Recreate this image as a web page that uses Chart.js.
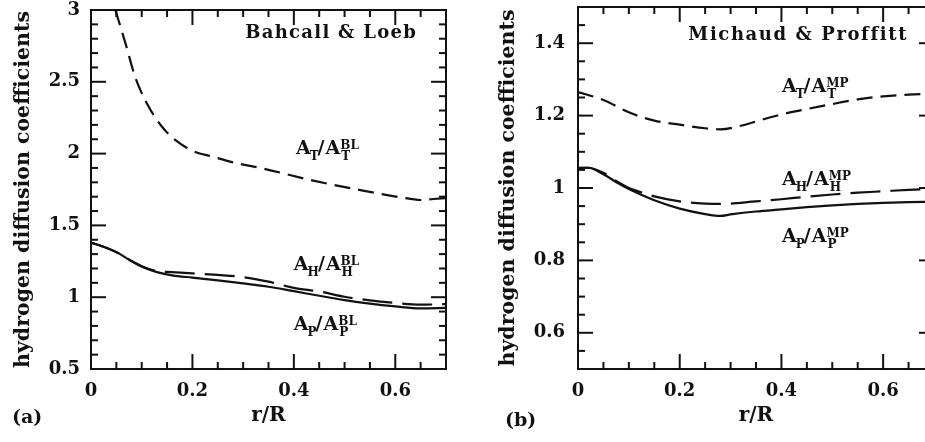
<!DOCTYPE html>
<html><head><meta charset="utf-8">
<script src="https://cdn.jsdelivr.net/npm/chart.js@4/dist/chart.umd.min.js"></script>
<style>
html,body{margin:0;padding:0;background:#fff;overflow:hidden;width:925px;height:442px;}
#wrap{position:relative;width:925px;height:442px;overflow:hidden;background:#fff;}
#ca{position:absolute;left:0;top:0;}
#cb{position:absolute;left:460px;top:0;}
</style></head>
<body><div id="wrap"><canvas id="ca" width="460" height="442"></canvas><canvas id="cb" width="480" height="442"></canvas></div>
<script>
// ---------- tick labels ----------
const xTicksA = [0, 0.2, 0.4, 0.6];
const yTicksA = [0.5, 1, 1.5, 2, 2.5, 3];
const xTicksB = [0, 0.2, 0.4, 0.6];
const yTicksB = [0.6, 0.8, 1, 1.2, 1.4];

// ---------- panel (a): Bahcall & Loeb ----------
const rA_T = [0.048, 0.068, 0.087, 0.11, 0.14, 0.166, 0.2, 0.24, 0.285, 0.337, 0.433, 0.531, 0.61, 0.65, 0.675, 0.7];
const ratioA_T = [3.0, 2.768, 2.535, 2.35, 2.187, 2.095, 2.02, 1.978, 1.935, 1.898, 1.816, 1.746, 1.696, 1.677, 1.684, 1.69];
const rA_HP = [0, 0.03, 0.055, 0.08, 0.105, 0.13, 0.16, 0.2, 0.25, 0.3, 0.35, 0.4, 0.45, 0.5, 0.55, 0.6, 0.65, 0.7];
const ratioA_H = [1.38, 1.345, 1.305, 1.252, 1.208, 1.182, 1.175, 1.166, 1.155, 1.14, 1.108, 1.065, 1.04, 1.003, 0.978, 0.96, 0.948, 0.952];
const ratioA_P = [1.38, 1.345, 1.305, 1.25, 1.205, 1.175, 1.152, 1.136, 1.117, 1.096, 1.073, 1.042, 1.01, 0.98, 0.955, 0.936, 0.922, 0.925];

// ---------- panel (b): Michaud & Proffitt ----------
const rB_T = [0, 0.05, 0.1, 0.15, 0.2, 0.25, 0.28, 0.32, 0.36, 0.4, 0.45, 0.5, 0.55, 0.6, 0.65, 0.7];
const ratioB_T = [1.265, 1.243, 1.209, 1.186, 1.175, 1.165, 1.162, 1.172, 1.188, 1.203, 1.218, 1.232, 1.245, 1.253, 1.258, 1.26];
const rB_H = [0, 0.02, 0.05, 0.08, 0.1, 0.12, 0.15, 0.2, 0.25, 0.28, 0.35, 0.4, 0.45, 0.5, 0.55, 0.6, 0.65, 0.7];
const ratioB_H = [1.055, 1.056, 1.042, 1.015, 1.0, 0.99, 0.977, 0.963, 0.957, 0.956, 0.963, 0.969, 0.976, 0.982, 0.987, 0.991, 0.995, 0.998];
const rB_P = [0, 0.02, 0.05, 0.08, 0.1, 0.12, 0.15, 0.2, 0.25, 0.28, 0.3, 0.35, 0.4, 0.45, 0.5, 0.55, 0.6, 0.65, 0.7];
const ratioB_P = [1.055, 1.056, 1.038, 1.012, 0.997, 0.984, 0.966, 0.943, 0.928, 0.923, 0.927, 0.935, 0.941, 0.947, 0.952, 0.956, 0.959, 0.961, 0.962];

const INK = '#111';
const SERIF = '"DejaVu Serif", serif';

function pts(xs, ys){ return xs.map((x,i)=>({x:x, y:ys[i]})); }
function curve(xs, ys, dash){
  return {data: pts(xs, ys), showLine:true, borderColor:INK, borderWidth:2.2, borderDash:dash,
          pointRadius:0, cubicInterpolationMode:'monotone', fill:false, clip:0};
}

const frameTicks = {
  id:'frameTicks',
  afterDatasetsDraw(chart, args, o){
    const {ctx, chartArea:{left,right,top,bottom}, scales:{x,y}} = chart;
    ctx.save();
    ctx.strokeStyle = INK; ctx.lineWidth = 2; ctx.lineCap='butt';
    ctx.strokeRect(left, top, right-left, bottom-top);
    const seg=(a,b,c,d)=>{ctx.beginPath();ctx.moveTo(a,b);ctx.lineTo(c,d);ctx.stroke();};
    const isMaj=(v,s)=>Math.abs(v/s-Math.round(v/s))<1e-6;
    for(let i=1;;i++){
      const v = x.min + i*o.xMinor; if(v >= x.max-1e-9) break;
      const L = isMaj(v,o.xMajor)?15:7, p=x.getPixelForValue(v);
      seg(p,bottom,p,bottom-L); seg(p,top,p,top+L);
    }
    for(let i=1;;i++){
      const v = y.min + i*o.yMinor; if(v >= y.max-1e-9) break;
      const L = isMaj(v,o.yMajor)?15:7, p=y.getPixelForValue(v);
      seg(left,p,left+L,p); seg(right,p,right-L,p);
    }
    ctx.restore();
  }
};

function ratioLabel(ctx, px, py, sub, sup){
  const big='bold 19px '+SERIF, small='bold 12px '+SERIF;
  ctx.textBaseline='alphabetic'; ctx.textAlign='left'; ctx.fillStyle=INK;
  let cx=px;
  ctx.font=big; ctx.fillText('A',cx,py); cx+=ctx.measureText('A').width-1;
  ctx.font=small; ctx.fillText(sub,cx,py+6); cx+=ctx.measureText(sub).width-1;
  ctx.font=big; ctx.fillText('/',cx,py); cx+=ctx.measureText('/').width+1;
  ctx.fillText('A',cx,py); cx+=ctx.measureText('A').width;
  ctx.font=small; ctx.fillText(sup,cx,py-5); ctx.fillText(sub,cx+1,py+6);
}

const notes = {
  id:'notes',
  afterDraw(chart, args, o){
    const {ctx, scales:{x,y}} = chart;
    ctx.save();
    ctx.fillStyle=INK;
    ctx.font='bold 18px '+SERIF; ctx.textAlign='left'; ctx.textBaseline='alphabetic';
    ctx.letterSpacing = o.titleSpacing;
    ctx.fillText(o.title, x.getPixelForValue(o.titleAt[0]), y.getPixelForValue(o.titleAt[1]));
    ctx.letterSpacing = '0px';
    o.labels.forEach(l=>ratioLabel(ctx, x.getPixelForValue(l.at[0]), y.getPixelForValue(l.at[1]), l.sub, l.sup));
    ctx.font='bold 19px '+SERIF; ctx.textBaseline='middle';
    ctx.fillText(o.panel, o.panelPos[0], o.panelPos[1]);
    ctx.restore();
  }
};

function makeChart(id, sets, xTicks, yTicks, ymin, ymax, yW, pad, yTitlePad, yTickPad, fo, no){
  return new Chart(document.getElementById(id), {
    type:'scatter',
    data:{datasets:sets},
    options:{
      responsive:false, animation:false, devicePixelRatio:1,
      layout:{padding:pad},
      plugins:{legend:{display:false}, tooltip:{enabled:false}, frameTicks:fo, notes:no},
      scales:{
        x:{type:'linear', min:0, max:0.7,
           grid:{display:false, drawTicks:false}, border:{display:false},
           afterBuildTicks:s=>{s.ticks = xTicks.map(v=>({value:v}));},
           afterFit:s=>{s.height=73; s.paddingLeft=0; s.paddingRight=0;},
           ticks:{color:INK, padding:12, maxRotation:0, autoSkip:false, font:{family:SERIF, size:18, weight:'bold'}, callback:v=>String(v)},
           title:{display:true, text:'r/R', color:INK, font:{family:SERIF, size:20, weight:'bold'}, padding:{top:0,bottom:14}}},
        y:{type:'linear', min:ymin, max:ymax,
           grid:{display:false, drawTicks:false}, border:{display:false},
           afterBuildTicks:s=>{s.ticks = yTicks.map(v=>({value:v}));},
           afterFit:s=>{s.width=yW; s.paddingTop=0; s.paddingBottom=0;},
           ticks:{color:INK, padding:yTickPad, autoSkip:false, font:{family:SERIF, size:18, weight:'bold'}, callback:v=>String(v)},
           title:{display:true, text:'hydrogen diffusion coefficients', color:INK, font:{family:SERIF, size:20.5, weight:'bold'}, padding:{top:yTitlePad,bottom:0}}}
      }
    },
    plugins:[frameTicks, notes]
  });
}

makeChart('ca',
  [curve(rA_T, ratioA_T, [16,8]), curve(rA_HP, ratioA_H, [30,10]), curve(rA_HP, ratioA_P, [])],
  xTicksA, yTicksA, 0.5, 3, 91, {top:10, right:14, left:0, bottom:0}, 11, 11,
  {xMinor:0.05, xMajor:0.2, yMinor:0.1, yMajor:0.5},
  {title:'Bahcall & Loeb', titleAt:[0.304, 2.805], titleSpacing:'1.3px', panel:'(a)', panelPos:[12, 418],
   labels:[{at:[0.404, 2.0], sub:'T', sup:'BL'}, {at:[0.4, 1.19], sub:'H', sup:'BL'}, {at:[0.4, 0.77], sub:'P', sup:'BL'}]});

makeChart('cb',
  [curve(rB_T, ratioB_T, [16,8]), curve(rB_H, ratioB_H, [30,10]), curve(rB_P, ratioB_P, [])],
  xTicksB, yTicksB, 0.5, 1.5, 118, {top:7, right:6, left:0, bottom:0}, 36, 13,
  {xMinor:0.05, xMajor:0.2, yMinor:0.05, yMajor:0.2},
  {title:'Michaud & Proffitt', titleAt:[0.217, 1.41], titleSpacing:'1.6px', panel:'(b)', panelPos:[45, 421],
   labels:[{at:[0.401, 1.266], sub:'T', sup:'MP'}, {at:[0.401, 1.009], sub:'H', sup:'MP'}, {at:[0.401, 0.852], sub:'P', sup:'MP'}]});
</script>
</body></html>
